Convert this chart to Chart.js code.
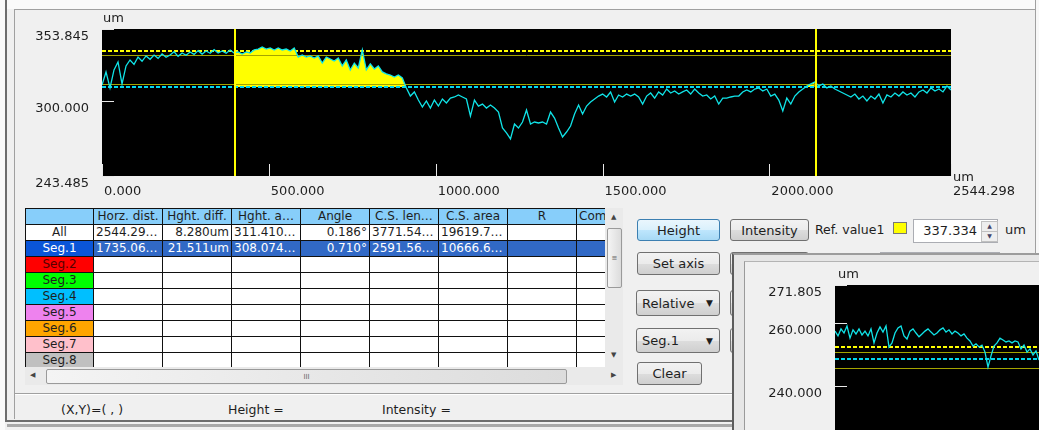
<!DOCTYPE html>
<html lang="en">
<head>
<meta charset="UTF-8">
<title>Profile measurement</title>
<script src="https://cdn.jsdelivr.net/npm/chart.js@4.4.0/dist/chart.umd.min.js"></script>
<style>
    body {
        margin: 0;
        width: 1039px;
        height: 430px;
        overflow: hidden;
        position: relative;
        background: #f0f0f0;
        font-family: 'DejaVu Sans', sans-serif;
        color: #1e1e1e;
    }
    .abs { position: absolute; }
    .unit { position: absolute; font-size: 13px; line-height: 14px; }
    .btn {
        position: absolute;
        box-sizing: border-box;
        border: 1px solid #707070;
        border-radius: 3px;
        background: linear-gradient(#f2f2f2 0%, #ebebeb 50%, #dddddd 51%, #cfcfcf 100%);
        font-size: 13px;
        text-align: center;
        display: flex;
        align-items: center;
        justify-content: center;
    }
    .btn.on {
        border-color: #3c7fb1;
        background: linear-gradient(#eaf6fd 0%, #d9f0fc 50%, #bee6fd 51%, #a7d9f5 100%);
    }
    .combo { justify-content: space-between; padding: 0 6px 0 5px; }
    .combo span.arr { font-size: 9px; }
    #grid {
        position: absolute; left: 25px; top: 208px; width: 580px; height: 159px;
        overflow: hidden; background: #fff;
    }
    #grid table { border-collapse: collapse; table-layout: fixed; width: 620px; font-size: 12px; }
    #grid td {
        border: 1px solid #111;
        height: 15px; padding: 0 2px;
        white-space: nowrap; overflow: hidden; line-height: 15px;
    }
    #grid tr.head td { background: #87cefa; text-align: center; }
    #grid td.rh { text-align: center; }
    #grid tr.sel td { background: #3169c6; color: #fff; }
    #grid td.r { text-align: right; }
    .sb { position: absolute; background: #eaeaea; }
    .thumb {
        position: absolute; box-sizing: border-box; border: 1px solid #9a9a9a; border-radius: 2px;
        background: linear-gradient(90deg, #f4f4f4, #dcdcdc);
        font-size: 7px; color: #666; display: flex; align-items: center; justify-content: center;
    }
    .arrow { position: absolute; font-size: 7px; color: #444; }
    .status { position: absolute; font-size: 12.5px; top: 402px; }
</style>
</head>
<body>

<!-- window frame -->
<div class="abs" style="left:0;top:0;width:1039px;height:9px;background:#fafafa"></div>
<div class="abs" style="left:14px;top:9px;width:1021px;height:1px;background:#a0a0a0"></div>
<div class="abs" style="left:1035px;top:0;width:4px;height:430px;background:#f8f8f8;border-left:1px solid #a0a0a0"></div>
<div class="abs" style="left:0;top:0;width:5px;height:430px;background:#fafafa"></div>
<div class="abs" style="left:5px;top:0;width:2px;height:422px;background:#6d6d6d"></div>
<div class="abs" style="left:14px;top:9px;width:1px;height:410px;background:#a0a0a0"></div>

<!-- main profile chart -->
<div class="abs" style="left:0;top:0;width:1039px;height:205px">
    <canvas id="profileChart"></canvas>
</div>
<div class="unit" style="left:103px;top:11px">um</div>
<div class="unit" style="left:953px;top:170px">um</div>

<!-- measurement table -->
<div id="grid">
    <table>
        <colgroup>
            <col style="width:68px"><col style="width:69px"><col style="width:69px"><col style="width:69px">
            <col style="width:69px"><col style="width:69px"><col style="width:69px"><col style="width:69px"><col style="width:69px">
        </colgroup>
        <tr class="head"><td></td><td>Horz. dist.</td><td>Hght. diff.</td><td>Hght. a…</td><td>Angle</td><td>C.S. len…</td><td>C.S. area</td><td>R</td><td style="text-align:left">Comment</td></tr>
        <tr><td class="rh" style="background:#fff">All</td><td>2544.29…</td><td class="r">8.280um</td><td>311.410…</td><td class="r">0.186°</td><td>3771.54…</td><td>19619.7…</td><td></td><td></td></tr>
        <tr class="sel"><td class="rh" style="background:#0a55d8">Seg.1</td><td>1735.06…</td><td class="r">21.511um</td><td>308.074…</td><td class="r">0.710°</td><td>2591.56…</td><td>10666.6…</td><td></td><td></td></tr>
        <tr><td class="rh" style="background:#ff0000;color:#500">Seg.2</td><td></td><td></td><td></td><td></td><td></td><td></td><td></td><td></td></tr>
        <tr><td class="rh" style="background:#00ff00">Seg.3</td><td></td><td></td><td></td><td></td><td></td><td></td><td></td><td></td></tr>
        <tr><td class="rh" style="background:#00bfff">Seg.4</td><td></td><td></td><td></td><td></td><td></td><td></td><td></td><td></td></tr>
        <tr><td class="rh" style="background:#ee82ee">Seg.5</td><td></td><td></td><td></td><td></td><td></td><td></td><td></td><td></td></tr>
        <tr><td class="rh" style="background:#ffa500">Seg.6</td><td></td><td></td><td></td><td></td><td></td><td></td><td></td><td></td></tr>
        <tr><td class="rh" style="background:#ffc0cb">Seg.7</td><td></td><td></td><td></td><td></td><td></td><td></td><td></td><td></td></tr>
        <tr><td class="rh" style="background:#c0c0c0">Seg.8</td><td></td><td></td><td></td><td></td><td></td><td></td><td></td><td></td></tr>
    </table>
</div>
<!-- scrollbars -->
<div class="sb" style="left:605px;top:208px;width:18px;height:159px"></div>
<div class="arrow" style="left:611px;top:213px">▲</div>
<div class="thumb" style="left:607px;top:228px;width:15px;height:60px">≡</div>
<div class="arrow" style="left:611px;top:351px">▼</div>
<div class="sb" style="left:25px;top:367px;width:598px;height:18px"></div>
<div class="arrow" style="left:30px;top:371px">◀</div>
<div class="thumb" style="left:46px;top:369px;width:521px;height:15px">III</div>
<div class="arrow" style="left:611px;top:371px">▶</div>

<!-- status bar -->
<div class="abs" style="left:15px;top:393px;width:720px;height:1px;background:#a0a0a0"></div>
<div class="abs" style="left:15px;top:394px;width:720px;height:1px;background:#fff"></div>
<div class="status" style="left:61px">(X,Y)=( , )</div>
<div class="status" style="left:228px">Height =</div>
<div class="status" style="left:382px">Intensity =</div>
<div class="abs" style="left:7px;top:420px;width:730px;height:2px;background:#6d6d6d"></div>
<div class="abs" style="left:7px;top:424px;width:730px;height:3px;background:#a8a8a8"></div>

<!-- controls -->
<div class="btn on" style="left:637px;top:219px;width:83px;height:22px">Height</div>
<div class="btn" style="left:730px;top:219px;width:79px;height:22px">Intensity</div>
<div class="abs" style="left:815px;top:222px;font-size:12.5px">Ref. value1</div>
<div class="abs" style="left:893px;top:222px;width:12px;height:10px;background:#ffff00;border:1px solid #777"></div>
<div class="abs" style="left:913px;top:219px;width:83px;height:22px;background:#fff;border:1px solid #abadb3"></div>
<div class="abs" style="left:913px;top:223px;width:64px;text-align:right;font-size:13px">337.334</div>
<div class="abs" style="left:981px;top:221px;width:15px;height:9px;border:1px solid #c0c0c0;background:#eee;font-size:6px;text-align:center;color:#446">▲</div>
<div class="abs" style="left:981px;top:231px;width:15px;height:9px;border:1px solid #c0c0c0;background:#eee;font-size:6px;text-align:center;color:#446">▼</div>
<div class="abs" style="left:1005px;top:222px;font-size:13px">um</div>

<div class="btn" style="left:637px;top:252px;width:83px;height:23px">Set axis</div>
<div class="btn" style="left:730px;top:252px;width:79px;height:23px"></div>
<div class="abs" style="left:880px;top:252px;width:118px;height:24px;background:#fff;border:1px solid #abadb3"></div>
<div class="btn combo" style="left:636px;top:290px;width:84px;height:26px"><span>Relative</span><span class="arr">▼</span></div>
<div class="btn" style="left:730px;top:290px;width:79px;height:26px"></div>
<div class="btn combo" style="left:636px;top:328px;width:84px;height:25px"><span>Seg.1</span><span class="arr">▼</span></div>
<div class="btn" style="left:730px;top:328px;width:79px;height:25px"></div>
<div class="btn" style="left:637px;top:362px;width:65px;height:23px">Clear</div>

<!-- overlapping zoom window -->
<div class="abs" style="left:732px;top:253px;width:307px;height:177px;background:#e6e6e6;border-left:2px solid #5c5c5c;border-top:2px solid #9c9c9c"></div>
<div class="abs" style="left:744px;top:261px;width:295px;height:169px;background:#f0f0f0;border-left:1px solid #9a9a9a;border-top:1px solid #b4b4b4"></div>
<div class="abs" style="left:745px;top:262px;width:294px;height:168px">
    <canvas id="zoomChart"></canvas>
</div>
<div class="unit" style="left:838px;top:267px">um</div>

<script>
    // main profile (um), sampled evenly across 0 .. xMax
    const xMax = 2544.298;
    const yRange = [243.485, 353.845];
    const xTickValues = [0, 500, 1000, 1500, 2000, 2544.298];
    const yTickValues = [243.485, 300, 353.845];
    const profile = [
        311.8, 321.6, 309.6, 323.1, 329.1, 312.6, 326.1, 330.6, 327.3, 332.8,
        329.6, 333.6, 331.1, 334.3, 331.8, 335.1, 332.6, 334.3, 336.8, 333.3,
        335.8, 334.1, 336.6, 334.8, 337.6, 335.0, 337.3, 335.6, 338.3, 335.8,
        337.3, 335.6, 338.1, 335.8, 336.6, 335.1, 336.6, 335.8, 338.1, 338.8,
        340.3, 338.8, 339.6, 338.1, 339.6, 338.1, 338.8, 337.3, 339.6, 332.8,
        334.3, 332.8, 333.6, 332.1, 333.6, 328.3, 332.8, 331.3, 329.8, 332.1,
        326.1, 330.6, 323.1, 328.3, 324.6, 338.1, 323.1, 327.6, 323.8, 326.1,
        321.6, 320.1, 319.3, 317.8, 319.3, 317.1, 309.6, 303.5, 306.6, 300.5,
        295.3, 299.8, 294.5, 300.5, 296.0, 301.3, 298.3, 302.0, 302.8, 304.3,
        302.8, 301.3, 288.5, 300.5, 296.0, 297.5, 294.5, 296.8, 294.5, 291.5,
        279.5, 275.8, 271.3, 282.5, 279.5, 284.0, 293.0, 282.5, 284.0, 283.3,
        284.0, 282.5, 291.5, 287.0, 279.5, 272.8, 276.5, 281.0, 290.0, 296.8,
        290.0, 296.0, 299.0, 301.3, 303.5, 305.0, 302.8, 306.5, 299.0, 304.3,
        302.8, 305.0, 303.5, 305.0, 302.8, 297.5, 303.5, 305.8, 302.0, 306.6,
        304.3, 308.8, 305.8, 307.3, 305.0, 306.6, 308.1, 305.0, 308.8, 305.8,
        303.5, 304.3, 301.3, 303.5, 297.5, 302.0, 302.0, 302.8, 303.5, 303.5,
        306.6, 308.1, 306.6, 308.8, 309.6, 307.3, 308.8, 303.5, 305.0, 300.5,
        292.3, 302.0, 297.5, 303.5, 306.6, 308.8, 311.1, 312.6, 314.1, 311.1,
        312.6, 309.6, 311.1, 308.8, 307.3, 305.8, 304.3, 302.8, 305.0, 301.3,
        303.5, 299.8, 303.5, 301.3, 305.0, 298.3, 304.3, 302.8, 305.8, 303.5,
        306.6, 304.3, 305.8, 302.8, 306.6, 308.1, 305.8, 309.6, 307.3, 308.8,
        306.6, 311.1, 308.1
    ];
    const seg1Samples = [33, 178];        // samples between the two cursors
    const cursors = [398.6, 2139.7];      // um
    const refValue1 = 337.334;            // yellow dashed
    const refValue2 = 310.3;              // cyan dashed
    const bandLines = [334.3, 312.6];     // olive

    // zoomed window
    const zoomYRange = [226.2, 271.805];
    const zoomYTicks = [240, 260, 271.805];
    const zoomProfile = [
        257.3, 255.8, 258.0, 256.7, 258.9, 255.1, 257.7, 256.4, 258.0, 256.1,
        257.3, 255.8, 258.0, 253.6, 256.7, 258.6, 257.0, 258.9, 252.3, 253.6,
        256.7, 258.3, 258.9, 255.8, 254.8, 257.3, 258.0, 256.7, 255.5, 256.4,
        257.3, 258.0, 257.0, 256.1, 256.7, 257.7, 258.3, 257.0, 257.7, 256.4,
        257.3, 256.7, 255.8, 256.4, 255.1, 254.2, 252.6, 253.3, 252.3, 252.9,
        250.7, 246.0, 249.5, 252.6, 253.6, 255.1, 254.5, 253.9, 254.2, 253.6,
        254.2, 253.9, 251.7, 252.9, 250.7, 251.7, 249.8, 251.1, 248.2
    ];
    const zoomRef1 = 252.3;
    const zoomRef2 = 248.6;
    const zoomBand = [250.7, 245.8];

    const CYAN = '#10e4e8';
    const YELLOW = '#ffff00';
    const OLIVE = '#a4a400';

    function hLine(chart, value, color, dash, width) {
        const { ctx, chartArea: a } = chart;
        const w = width || 1;
        const py = Math.round(chart.scales.y.getPixelForValue(value)) + (w % 2 ? 0.5 : 0);
        ctx.save();
        ctx.strokeStyle = color;
        ctx.lineWidth = w;
        ctx.setLineDash(dash || []);
        ctx.beginPath();
        ctx.moveTo(a.left, py);
        ctx.lineTo(a.right, py);
        ctx.stroke();
        ctx.restore();
    }

    function fixedTicks(values) {
        return scale => { scale.ticks = values.map(v => ({ value: v })); };
    }

    // black plot area + reference lines + cursors + inner white ticks
    function plotPlugin(refs, drawCursors, drawXTicks) {
        return {
            id: 'plotDecor',
            beforeDraw(chart) {
                const { ctx, chartArea: a } = chart;
                ctx.save();
                ctx.fillStyle = '#000';
                ctx.fillRect(a.left, a.top, a.right - a.left, a.bottom - a.top);
                ctx.restore();
            },
            beforeDatasetDraw(chart, args) {
                if (args.index !== 0) return;
                refs.band.forEach(v => hLine(chart, v, OLIVE));
                hLine(chart, refs.ref1, YELLOW, [4, 2], 2);
                hLine(chart, refs.ref2, '#00d8f0', [4, 2], 2);
            },
            afterDatasetsDraw(chart) {
                const { ctx, chartArea: a, scales } = chart;
                ctx.save();
                if (drawCursors) {
                    ctx.strokeStyle = YELLOW;
                    ctx.lineWidth = 2;
                    cursors.forEach(c => {
                        const px = Math.round(scales.x.getPixelForValue(c));
                        ctx.beginPath();
                        ctx.moveTo(px, a.top);
                        ctx.lineTo(px, a.bottom);
                        ctx.stroke();
                    });
                }
                ctx.strokeStyle = '#e8e8e8';
                ctx.lineWidth = 1;
                scales.y.ticks.forEach(t => {
                    const py = Math.round(scales.y.getPixelForValue(t.value)) + 0.5;
                    ctx.beginPath();
                    ctx.moveTo(a.left, py);
                    ctx.lineTo(a.left + 12, py);
                    ctx.stroke();
                });
                if (drawXTicks) {
                    scales.x.ticks.forEach(t => {
                        const px = Math.round(scales.x.getPixelForValue(t.value)) + 0.5;
                        ctx.beginPath();
                        ctx.moveTo(px, a.bottom);
                        ctx.lineTo(px, a.bottom - 12);
                        ctx.stroke();
                    });
                }
                ctx.restore();
            }
        };
    }

    const axisFont = { family: 'DejaVu Sans', size: 13 };
    const step = xMax / (profile.length - 1);
    const profilePoints = profile.map((v, i) => ({ x: i * step, y: v }));
    const seg1Points = profilePoints.slice(seg1Samples[0], seg1Samples[1] + 1);

    new Chart(document.getElementById('profileChart'), {
        type: 'line',
        data: {
            datasets: [
                {
                    data: profilePoints,
                    borderColor: CYAN,
                    borderWidth: 1.3,
                    pointRadius: 0,
                    fill: false
                },
                {
                    data: seg1Points,
                    borderWidth: 0,
                    borderColor: 'rgba(0,0,0,0)',
                    pointRadius: 0,
                    fill: { value: refValue2, above: YELLOW, below: 'rgba(0,0,0,0)' }
                }
            ]
        },
        options: {
            responsive: true,
            maintainAspectRatio: false,
            animation: false,
            layout: { padding: { left: 0, top: 29, right: 88, bottom: 0 } },
            plugins: { legend: { display: false }, tooltip: { enabled: false } },
            scales: {
                x: {
                    type: 'linear',
                    min: 0,
                    max: xMax,
                    grid: { display: false, drawTicks: false },
                    border: { display: false },
                    afterBuildTicks: fixedTicks(xTickValues),
                    afterFit: s => { s.height = 29; s.paddingLeft = 0; s.paddingRight = 0; },
                    ticks: {
                        align: 'start',
                        labelOffset: 2,
                        padding: 8,
                        maxRotation: 0,
                        autoSkip: false,
                        color: '#1e1e1e',
                        font: axisFont,
                        callback: v => v.toFixed(3)
                    }
                },
                y: {
                    min: yRange[0],
                    max: yRange[1],
                    grid: { display: false, drawTicks: false },
                    border: { display: false },
                    afterBuildTicks: fixedTicks(yTickValues),
                    afterFit: s => { s.width = 102; s.paddingTop = 0; s.paddingBottom = 0; },
                    ticks: {
                        padding: 13,
                        labelOffset: 8,
                        color: '#1e1e1e',
                        font: axisFont,
                        callback: v => v.toFixed(3)
                    }
                }
            }
        },
        plugins: [plotPlugin({ band: bandLines, ref1: refValue1, ref2: refValue2 }, true, true)]
    });

    new Chart(document.getElementById('zoomChart'), {
        type: 'line',
        data: {
            datasets: [{
                data: zoomProfile.map((v, i) => ({ x: i, y: v })),
                borderColor: CYAN,
                borderWidth: 1.3,
                pointRadius: 0,
                fill: false
            }]
        },
        options: {
            responsive: true,
            maintainAspectRatio: false,
            animation: false,
            layout: { padding: { left: 0, top: 23, right: 0, bottom: 0 } },
            plugins: { legend: { display: false }, tooltip: { enabled: false } },
            scales: {
                x: {
                    type: 'linear',
                    min: 0,
                    max: zoomProfile.length - 1,
                    display: false
                },
                y: {
                    min: zoomYRange[0],
                    max: zoomYRange[1],
                    grid: { display: false, drawTicks: false },
                    border: { display: false },
                    afterBuildTicks: fixedTicks(zoomYTicks),
                    afterFit: s => { s.width = 90; s.paddingTop = 0; s.paddingBottom = 0; },
                    ticks: {
                        padding: 13,
                        labelOffset: 8,
                        color: '#1e1e1e',
                        font: axisFont,
                        callback: v => v.toFixed(3)
                    }
                }
            }
        },
        plugins: [plotPlugin({ band: zoomBand, ref1: zoomRef1, ref2: zoomRef2 }, false, false)]
    });
</script>
</body>
</html>
